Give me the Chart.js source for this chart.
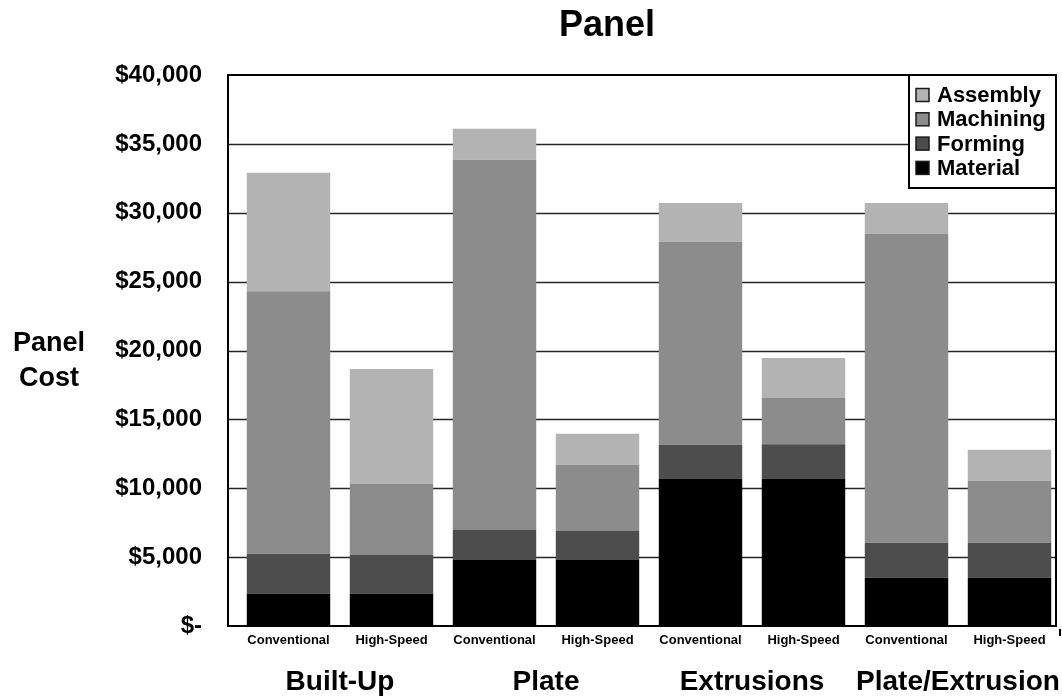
<!DOCTYPE html>
<html>
<head>
<meta charset="utf-8">
<script src="https://cdn.jsdelivr.net/npm/chart.js@4"></script>
<style>
  html, body { margin: 0; padding: 0; background: #fff; }
  #c { display: block; }
</style>
</head>
<body>
<canvas id="c" width="1062" height="698"></canvas>
<script>
// Panel cost breakdown by fabrication approach and machining method (US$)
const methods = ['Conventional', 'High-Speed', 'Conventional', 'High-Speed',
                 'Conventional', 'High-Speed', 'Conventional', 'High-Speed'];
const panelTypes = ['Built-Up', 'Plate', 'Extrusions', 'Plate/Extrusion'];

const material  = [2350, 2350, 4800, 4800, 10700, 10700, 3500, 3500];
const forming   = [2900, 2800, 2200, 2100, 2450, 2500, 2550, 2550];
const machining = [19050, 5150, 26850, 4800, 14750, 3350, 22400, 4500];
const assembly  = [8600, 8350, 2250, 2250, 2800, 2900, 2250, 2250];

const yTickValues = [0, 5000, 10000, 15000, 20000, 25000, 30000, 35000, 40000];

const FONT = '"Liberation Sans", Arial, Helvetica, sans-serif';

function money(v) {
  return v === 0 ? '$-' : '$' + v.toLocaleString('en-US');
}

// Keep wide edge labels from shrinking the plot horizontally
function noEdgePadding(s) {
  s.paddingLeft = 0;
  s.paddingRight = 0;
}

// Plot frame, horizontal grid, boxed legend and free-standing titles
const decorations = {
  id: 'decorations',
  beforeDatasetsDraw(chart) {
    const { ctx, chartArea: a, scales: { y } } = chart;
    const L = a.left - 9, R = a.right - 5;
    ctx.save();
    ctx.strokeStyle = '#262626';
    ctx.lineWidth = 1.6;
    yTickValues.forEach(v => {
      if (v === y.min || v === y.max) return;
      const py = Math.round(y.getPixelForValue(v)) + 0.5;
      ctx.beginPath();
      ctx.moveTo(L, py);
      ctx.lineTo(R, py);
      ctx.stroke();
    });
    ctx.restore();
  },
  afterDatasetsDraw(chart) {
    const { ctx, chartArea: a, scales: { y } } = chart;
    const L = a.left - 9, R = a.right - 5;
    const T = y.getPixelForValue(y.max), B = y.getPixelForValue(0);
    ctx.save();
    // frame
    ctx.strokeStyle = '#000';
    ctx.lineWidth = 2;
    ctx.strokeRect(L, T, R - L, B - T);
    // stray tick at the right end of the category axis
    ctx.beginPath();
    ctx.moveTo(R + 4, B + 3);
    ctx.lineTo(R + 4, B + 10);
    ctx.stroke();

    // legend (top series first)
    const items = chart.data.datasets.slice().reverse();
    const bx = R - 147, by = T, bw = 147, bh = 113;
    ctx.fillStyle = '#fff';
    ctx.fillRect(bx, by, bw, bh);
    ctx.strokeRect(bx, by, bw, bh);
    ctx.font = 'bold 22px ' + FONT;
    ctx.textBaseline = 'middle';
    ctx.textAlign = 'left';
    items.forEach((ds, i) => {
      const cy = by + 20 + i * 24.3;
      ctx.fillStyle = ds.backgroundColor;
      ctx.fillRect(bx + 7, cy - 6.5, 13, 13);
      ctx.lineWidth = 1.5;
      ctx.strokeStyle = '#1a1a1a';
      ctx.strokeRect(bx + 7, cy - 6.5, 13, 13);
      ctx.fillStyle = '#000';
      ctx.fillText(ds.label, bx + 28, cy + 1);
    });
    ctx.restore();
  },
  afterDraw(chart) {
    const { ctx } = chart;
    ctx.save();
    ctx.fillStyle = '#000';
    ctx.textAlign = 'center';
    ctx.textBaseline = 'middle';
    ctx.font = 'bold 36px ' + FONT;
    ctx.fillText('Panel', 607, 26);
    ctx.font = 'bold 27px ' + FONT;
    ctx.fillText('Panel', 49, 344);
    ctx.fillText('Cost', 49, 379);
    ctx.restore();
  }
};

new Chart(document.getElementById('c'), {
  type: 'bar',
  data: {
    labels: methods,
    datasets: [
      { label: 'Material',  data: material,  backgroundColor: '#000000' },
      { label: 'Forming',   data: forming,   backgroundColor: '#4d4d4d' },
      { label: 'Machining', data: machining, backgroundColor: '#8c8c8c' },
      { label: 'Assembly',  data: assembly,  backgroundColor: '#b3b3b3' }
    ]
  },
  options: {
    responsive: false,
    animation: false,
    datasets: { bar: { barPercentage: 0.81, categoryPercentage: 1, borderWidth: 0 } },
    layout: { padding: { top: 75, right: 1, left: 0, bottom: 0 } },
    plugins: {
      legend: { display: false },
      title: { display: false },
      tooltip: { enabled: false }
    },
    scales: {
      x: {
        stacked: true,
        position: 'bottom',
        weight: 0,
        grid: { display: false, drawTicks: false },
        border: { display: false },
        ticks: {
          color: '#000', padding: 7, maxRotation: 0, autoSkip: false,
          font: { family: FONT, size: 13, weight: 'bold' }
        },
        afterFit(s) { s.height = 30; noEdgePadding(s); }
      },
      groups: {
        type: 'category',
        labels: panelTypes,
        position: 'bottom',
        weight: 1,
        grid: { display: false, drawTicks: false },
        border: { display: false },
        ticks: {
          color: '#000', padding: 9, maxRotation: 0, autoSkip: false,
          font: { family: FONT, size: 28, weight: 'bold' }
        },
        afterFit(s) { s.height = 42; noEdgePadding(s); }
      },
      y: {
        stacked: true,
        min: 0,
        max: 40000,
        grid: { display: false, drawTicks: false },
        border: { display: false },
        ticks: {
          stepSize: 5000,
          color: '#000',
          padding: 35,
          callback: v => money(v),
          font: { family: FONT, size: 24, weight: 'bold' }
        },
        afterFit(s) { s.width = 237; }
      }
    }
  },
  plugins: [decorations]
});
</script>
</body>
</html>
